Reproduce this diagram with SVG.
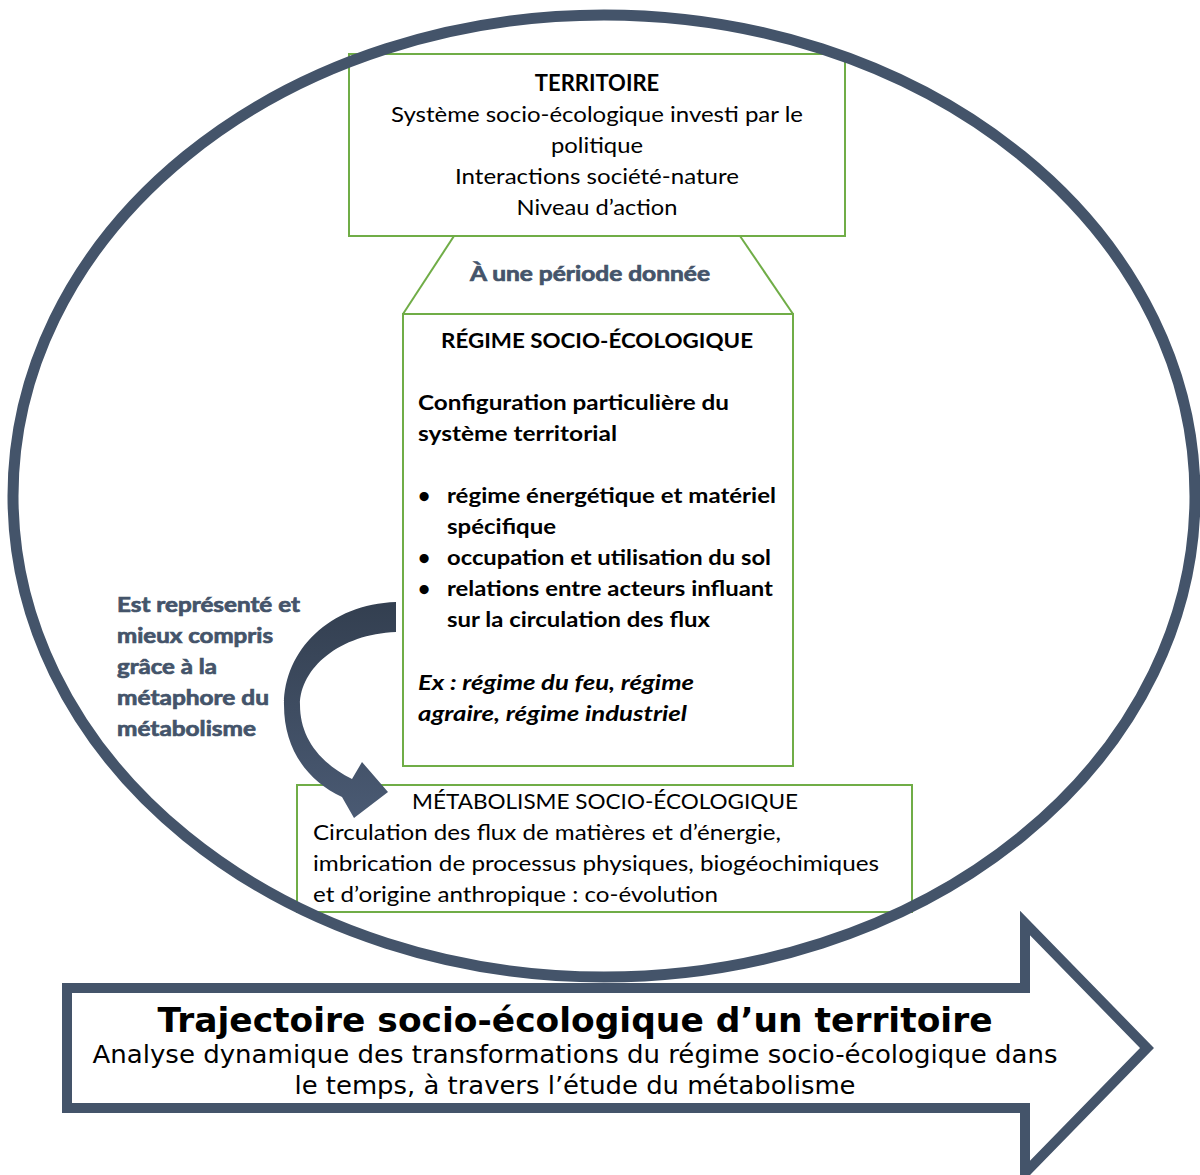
<svg xmlns="http://www.w3.org/2000/svg" width="1200" height="1175" viewBox="0 0 1200 1175">
<style>
  .box { fill: #ffffff; stroke: #70AD47; stroke-width: 2; }
  .reg { font-family: Lato, "Open Sans", "Liberation Sans", sans-serif; font-size: 22px; fill: #000000; }
  .bold { font-family: Lato, "Open Sans", "Liberation Sans", sans-serif; font-weight: bold; font-size: 21px; fill: #000000; }
  .dark { font-family: Lato, "Open Sans", "Liberation Sans", sans-serif; font-weight: bold; font-size: 21px; fill: #44546A; stroke: #44546A; stroke-width: 0.7px; }
  .big { font-family: "DejaVu Sans", Verdana, sans-serif; fill: #000000; }
  .mid { text-anchor: middle; }
  .link { stroke: #70AD47; stroke-width: 2; fill: none; }
</style>
<defs>
  <linearGradient id="curveGrad" x1="0" y1="0" x2="0" y2="1">
    <stop offset="0" stop-color="#333F50"/>
    <stop offset="1" stop-color="#4A5A73"/>
  </linearGradient>
</defs>
<rect width="1200" height="1175" fill="#ffffff"/>

<g id="territoire">
  <rect class="box" x="349" y="54" width="496" height="182"/>
  <text class="reg mid" x="597" y="91" font-weight="bold">TERRITOIRE</text>
  <text class="reg mid" x="597" y="122" textLength="412" lengthAdjust="spacingAndGlyphs">Système socio-écologique investi par le</text>
  <text class="reg mid" x="597" y="153" textLength="92" lengthAdjust="spacingAndGlyphs">politique</text>
  <text class="reg mid" x="597" y="184" textLength="284" lengthAdjust="spacingAndGlyphs">Interactions société-nature</text>
  <text class="reg mid" x="597" y="215" textLength="161" lengthAdjust="spacingAndGlyphs">Niveau d’action</text>
</g>

<g id="regime">
  <rect class="box" x="403" y="314" width="390" height="452"/>
  <text class="bold mid" x="597" y="348" font-size="20" textLength="312" lengthAdjust="spacingAndGlyphs">RÉGIME SOCIO-ÉCOLOGIQUE</text>
  <text class="bold" x="418" y="410" textLength="311" lengthAdjust="spacingAndGlyphs">Configuration  particulière du</text>
  <text class="bold" x="418" y="441" textLength="199" lengthAdjust="spacingAndGlyphs">système territorial</text>
  <text class="bold" x="418" y="503">•</text>
  <text class="bold" x="447" y="503" textLength="329" lengthAdjust="spacingAndGlyphs">régime énergétique et matériel</text>
  <text class="bold" x="447" y="534" textLength="109" lengthAdjust="spacingAndGlyphs">spécifique</text>
  <text class="bold" x="418" y="565">•</text>
  <text class="bold" x="447" y="565" textLength="324" lengthAdjust="spacingAndGlyphs">occupation et utilisation du sol</text>
  <text class="bold" x="418" y="596">•</text>
  <text class="bold" x="447" y="596" textLength="326" lengthAdjust="spacingAndGlyphs">relations entre acteurs influant</text>
  <text class="bold" x="447" y="627" textLength="263" lengthAdjust="spacingAndGlyphs">sur la circulation des flux</text>
  <text class="bold" x="418" y="690" font-style="italic" textLength="276" lengthAdjust="spacingAndGlyphs">Ex : régime du feu, régime</text>
  <text class="bold" x="418" y="721" font-style="italic" textLength="269" lengthAdjust="spacingAndGlyphs">agraire, régime industriel</text>
</g>

<g id="metabolisme">
  <rect class="box" x="297" y="785" width="615" height="127"/>
  <text class="reg mid" x="605" y="809" textLength="386" lengthAdjust="spacingAndGlyphs">MÉTABOLISME SOCIO-ÉCOLOGIQUE</text>
  <text class="reg" x="313" y="840" textLength="468" lengthAdjust="spacingAndGlyphs">Circulation des flux de matières et d’énergie,</text>
  <text class="reg" x="313" y="871" textLength="566" lengthAdjust="spacingAndGlyphs">imbrication de processus physiques, biogéochimiques</text>
  <text class="reg" x="313" y="902" textLength="405" lengthAdjust="spacingAndGlyphs">et d’origine anthropique : co-évolution</text>
</g>

<g id="cadre">
  <ellipse cx="604" cy="496" rx="591" ry="481" fill="none" stroke="#44546A" stroke-width="11"/>
</g>

<g id="periode">
  <text class="dark mid" x="590" y="281" font-size="22" textLength="240" lengthAdjust="spacingAndGlyphs">À une période donnée</text>
</g>

<g id="metaphore">
  <text class="dark" x="117" y="612" textLength="183" lengthAdjust="spacingAndGlyphs">Est représenté et</text>
  <text class="dark" x="117" y="643" textLength="156" lengthAdjust="spacingAndGlyphs">mieux compris</text>
  <text class="dark" x="117" y="674" textLength="100" lengthAdjust="spacingAndGlyphs">grâce à la</text>
  <text class="dark" x="117" y="705" textLength="152" lengthAdjust="spacingAndGlyphs">métaphore du</text>
  <text class="dark" x="117" y="736" textLength="139" lengthAdjust="spacingAndGlyphs">métabolisme</text>
</g>

<g id="connecteurs">
  <line class="link" x1="454" y1="236" x2="403" y2="314"/>
  <line class="link" x1="740" y1="236" x2="793" y2="314"/>
  <path fill="url(#curveGrad)" d="M 396 602 C 330 604, 284 650, 284 705 C 284 748, 306 780, 342 797 L 354 818 L 388 792 L 362 762 L 352 779 C 318 762, 300 736, 300 705 C 300 668, 340 634, 396 632 Z"/>
</g>

<g id="trajectoire">
  <polygon points="67,988 1025,988 1025,923 1147,1048 1025,1173 1025,1108 67,1108" fill="#ffffff" stroke="#44546A" stroke-width="10" stroke-linejoin="miter"/>
  <text class="big mid" x="575" y="1032" font-size="33" font-weight="bold" textLength="835" lengthAdjust="spacingAndGlyphs">Trajectoire socio-écologique d’un territoire</text>
  <text class="big mid" x="575" y="1063" font-size="25" textLength="965" lengthAdjust="spacingAndGlyphs">Analyse dynamique des transformations du régime socio-écologique dans</text>
  <text class="big mid" x="575" y="1094" font-size="25" textLength="561" lengthAdjust="spacingAndGlyphs">le temps, à travers l’étude du métabolisme</text>
</g>
</svg>
